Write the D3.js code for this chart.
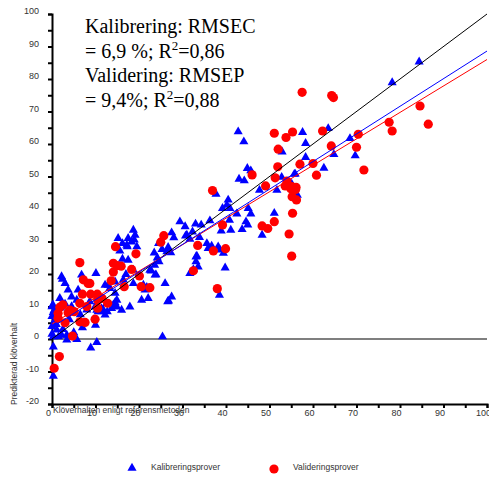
<!DOCTYPE html>
<html>
<head>
<meta charset="utf-8">
<script src="https://cdn.jsdelivr.net/npm/d3@7"></script>
<style>
  body { margin: 0; background: #fff; }
  .tick text { font-family: "Liberation Sans", Arial, sans-serif; font-size: 9px; fill: #333; }
</style>
</head>
<body>
<div id="chart"></div>
<script>
// kalibreringsprover (referens, predikterad)
var calibration = [
  [84.4,85.3],[78.2,78.9],[63.5,64.8],[57.6,63.6],[58.3,60.2],[68.5,61.7],[58.3,55.9],[64.8,56.8],[69.7,56.4],[62.5,52.6],[55.7,50.7],[55.1,47.7],
  [42.8,63.8],[44.1,60.7],[52.9,57.6],[44.9,52.5],[45.7,51.8],[43,49.2],[44.2,48.7],[55.9,50.8],[52.8,49.8],[47.7,45.8],[51.7,45.8],[37.7,44.6],
  [56.4,44.3],[40.5,42.8],[40.2,41.2],[39.2,40.2],[40.9,40.2],[45.1,40.2],[45.7,38.5],[42.5,38.5],[51.1,38.7],[40.8,36.6],[36.3,36.4],[33,35.4],
  [34.3,35.1],[29.4,36.1],[30.6,34.6],[32.3,33],[33.9,31.3],[31,32],[38.9,33.3],[41.1,33.5],[43.7,33.7],[45,35.1],[48.3,32],[35.6,29.4],
  [36.7,28.6],[35.9,27.9],[38.6,27.4],[39.4,26.4],[33.1,25.3],[44.6,36.1],[30.7,31.7],[31.7,30.7],[38.2,28.4],[27.5,32.7],[28,31.2],[26.7,28.2],
  [27.3,26.6],[26.4,26.9],[24.5,29.4],[23.5,26.5],[24.2,25],[25.3,27.6],[23.6,22.7],[22.8,21],[23.9,19.8],[24.6,23.8],
  [18.7,33.5],[19.1,32],[18.3,29.9],[17.5,31],[18.9,30.5],[17.3,28.4],[19.5,28.4],[15.2,31],[16.2,29.4],[17.2,28.9],[15.6,27.1],[16.2,24.6],
  [10.1,20.2],[17,19.9],[16.4,18.2],[22.5,21.2],[23.7,19.7],[26,17.1],[31.7,20.2],[32.5,21.4],[33.6,22.2],[33.1,23.8],[33.3,25.5],[12.2,16.6],
  [13.3,15.6],[14.5,17.6],[18.7,17.1],[21,16.6],[21.8,15.9],[39.8,21.9],[27.5,13],[26.8,11.7],[38.5,13.5],[25.4,0.7],[26.6,11.5],
  [21.4,15.1],[22.1,12.5],[20.6,12],[16,8.9],[17.9,9.9],[18.7,21.2],[17.5,24.3],
  [0.2,10.5],[0.5,8.8],[2,9.6],[3,10.8],[14.5,11.2],[14.1,10.5],[12.7,8.4],[11.4,8.4],[10.3,8.9],[10,4.3],[10.3,-1],[8.9,-2.7],
  [0.3,-2.4],[0.3,-11.4],[3.4,-0.3],[5.7,-0.1],[3,17.1],[2.4,18.4],[2.2,19.2],[6.8,19.7],[12.9,16.6],
  [0,10],[0.3,8.2],[0,7],[0.7,5.9],[0,3.9],[1.1,2.8],[1.5,0.7],[2.2,1.2],[3.4,1.2],[0.3,0.7],[0,1.5],
  [4.5,13],[5.7,12],[6,15.1],[3.7,15.1],[8.7,11.5],[9.9,9.9],[10.6,8.4],[11.4,9.4],[12.6,11],[13.7,9.4],[14.9,9.9],[14.9,12],[14.5,14.1],
  [1,4.5],[2.5,3],[4,6],[5,2],[1.8,12.5],[4.5,10],[6.5,7.5],[8,9],[7,3.5],[11.8,8.9],[12.2,7.4]
];

// valideringsprover
var validation = [
  [57.5,75.9],[64.3,74.9],[64.7,74.3],[84.6,71.7],[86.5,66.1],[77.5,66.7],[78.2,64],[55.3,63.7],[62.2,64],[70.4,63],[64.2,59.4],[70,59],
  [57,53.8],[60,54],[71.7,52],[60.8,50.4],[55.1,46.9],[56.1,46.7],
  [51.1,63.3],[53.8,62],[52,58.4],[51.9,53],[46,50.5],[51.3,49.6],[49.1,47.1],[54,48.6],[53.6,47.1],[54.9,46.2],[56,46],[36.9,45.7],
  [55.2,43.8],[56.2,42.8],[55.3,38.7],[51.1,36.1],[48.3,34.8],[49.6,34],[39.2,35.1],[54.5,32.3],[33.5,28.8],[37.1,27.1],[39.9,27.8],[55.1,25.5],
  [25.7,31.8],[25,29.8],[14.6,28.4],[19.3,26.2],[14.1,23.3],[15,22.6],[15.9,22.4],[14.1,20.6],[18.3,21.4],[20.1,19.4],[13.6,17.9],[32.5,21],
  [20.5,16.1],[22.5,15.8],[8.7,17.1],[38,15.5],
  [6.4,23.5],[7.2,18.2],[8.3,17.1],[7,13.8],[8.9,13.8],[10.4,13.8],[12.8,11],[16.6,16.1],[1.8,9.8],[4.1,8.9],[5.1,8.4],[6.4,11],
  [9.9,6.1],[4.7,0.9],[3,5],[1.4,7.9],[1.4,6.4],[7.6,5.1],[6.4,5.3],[0.5,-9],[1.7,-5.4],
  [2.5,10.5],[3.7,8.1],[11.5,12.5],[10.5,9.5],[8,10],[10.5,12]
];

// linjer: 1:1, kalibrering, validering
var refLine = [[0,0],[100,100]];
var calFit = [[0,3.6],[100,88.6]];
var valFit = [[0,4.6],[100,86]];

var xTicks = [0,10,20,30,40,50,60,70,80,90,100];
var yTicks = [-20,-10,0,10,20,30,40,50,60,70,80,90,100];

var infoLines = [
  ["Kalibrering: RMSEC"],
  ["= 6,9 %; R", "2", "=0,86"],
  ["Validering: RMSEP"],
  ["= 9,4%; R", "2", "=0,88"]
];

var W = 489, H = 478;
var svg = d3.select('#chart').append('svg').attr('width', W).attr('height', H);

var x = d3.scaleLinear().domain([0, 100]).range([52, 487]),
    y = d3.scaleLinear().domain([-20, 100]).range([404, 14]);

// nollinje
svg.append('line')
  .attr('x1', x(0)).attr('x2', x(100))
  .attr('y1', y(0)).attr('y2', y(0))
  .attr('stroke', '#555').attr('stroke-width', 1.5);

// axlar
var xAxis = svg.append('g').attr('transform', 'translate(0,' + y(-20) + ')')
  .call(d3.axisBottom(x).tickValues(d3.range(0, 101, 5)).tickSize(4).tickPadding(2)
    .tickFormat(function(d) { return xTicks.indexOf(d) >= 0 ? d : ''; }));
xAxis.select('.domain').attr('stroke-width', 2);
xAxis.selectAll('.tick line').attr('stroke-width', 2);
xAxis.selectAll('.tick text').attr('dx', -4);

var yAxis = svg.append('g').attr('transform', 'translate(' + x(0) + ',0)')
  .call(d3.axisLeft(y).tickValues(d3.range(-20, 101, 5)).tickSize(4).tickPadding(9)
    .tickFormat(function(d) { return yTicks.indexOf(d) >= 0 ? d : ''; }));
yAxis.select('.domain').attr('stroke-width', 2);
yAxis.selectAll('.tick line').attr('stroke-width', 2);
yAxis.selectAll('.tick text').attr('dy', '-0.05em');

// axeltitlar
svg.append('text')
  .attr('x', 53).attr('y', 413)
  .style('font-family', '"Liberation Sans", Arial, sans-serif')
  .style('font-size', '8.5px').attr('fill', '#333')
  .text('Klöverhalten enligt referensmetoden');

svg.append('text')
  .attr('transform', 'translate(17,405) rotate(-90)')
  .style('font-family', '"Liberation Sans", Arial, sans-serif')
  .style('font-size', '8.5px').attr('fill', '#333')
  .text('Predikterad klöverhalt');

// punkter
var tri = d3.symbol().type(d3.symbolTriangle).size(36);
svg.append('g').selectAll('path')
  .data(calibration).enter().append('path')
  .attr('d', tri)
  .attr('transform', function(d) { return 'translate(' + x(d[0]) + ',' + y(d[1]) + ')'; })
  .attr('fill', '#0000ff');

svg.append('g').selectAll('circle')
  .data(validation).enter().append('circle')
  .attr('cx', function(d) { return x(d[0]); })
  .attr('cy', function(d) { return y(d[1]); })
  .attr('r', 4.6)
  .attr('fill', '#ff0000');

// linjer
var line = d3.line().x(function(d) { return x(d[0]); }).y(function(d) { return y(d[1]); });
[[refLine, '#000'], [valFit, '#ff0000'], [calFit, '#0000ff']].forEach(function(l) {
  svg.append('path').attr('d', line(l[0])).attr('fill', 'none')
    .attr('stroke', l[1]).attr('stroke-width', 1);
});

// textruta
var info = svg.append('text')
  .style('font-family', '"Liberation Serif", "Times New Roman", serif')
  .style('font-size', '20px').attr('fill', '#000');
infoLines.forEach(function(parts, i) {
  var t = info.append('tspan').attr('x', 85).attr('y', 33 + i * 24.7).text(parts[0]);
  if (parts.length > 1) {
    info.append('tspan').attr('dy', -8).style('font-size', '13px').text(parts[1]);
    info.append('tspan').attr('dy', 8).text(parts[2]);
  }
});

// legend
svg.append('path').attr('d', tri).attr('transform', 'translate(132,468)').attr('fill', '#0000ff');
svg.append('circle').attr('cx', 274).attr('cy', 469).attr('r', 4.6).attr('fill', '#ff0000');
svg.append('text').attr('x', 151).attr('y', 470)
  .style('font-family', '"Liberation Sans", Arial, sans-serif').style('font-size', '8.5px').attr('fill', '#333')
  .text('Kalibreringsprover');
svg.append('text').attr('x', 293).attr('y', 470)
  .style('font-family', '"Liberation Sans", Arial, sans-serif').style('font-size', '8.5px').attr('fill', '#333')
  .text('Valideringsprover');
</script>
</body>
</html>
